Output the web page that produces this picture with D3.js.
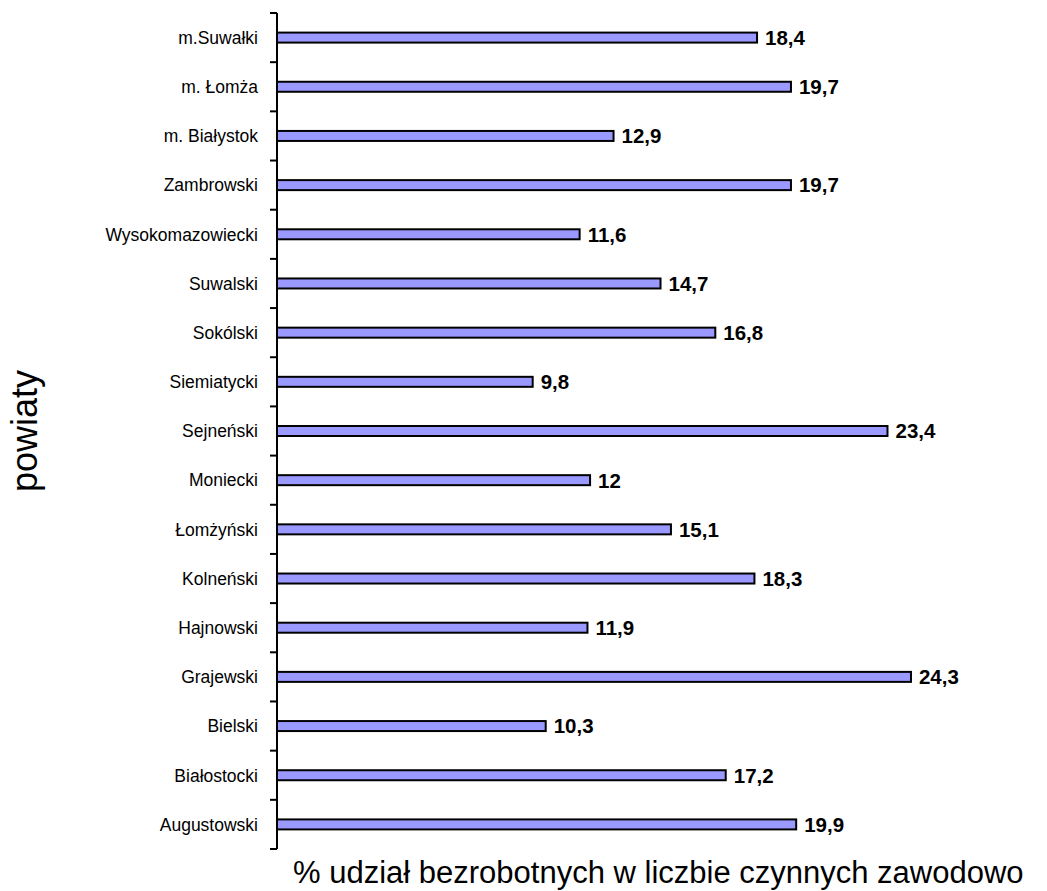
<!DOCTYPE html>
<html>
<head>
<meta charset="utf-8">
<script src="https://cdn.jsdelivr.net/npm/d3@7"></script>
<style>
	body { margin: 0; background: #fff; }
	text { font-family: 'Liberation Sans', Arial, sans-serif; }
</style>
</head>
<body>
<svg class="display"></svg>
<script>
// categories top to bottom
const powiaty = [
	'm.Suwałki', 'm. Łomża', 'm. Białystok', 'Zambrowski', 'Wysokomazowiecki',
	'Suwalski', 'Sokólski', 'Siemiatycki', 'Sejneński', 'Moniecki',
	'Łomżyński', 'Kolneński', 'Hajnowski', 'Grajewski', 'Bielski',
	'Białostocki', 'Augustowski'
];
const udzial = [18.4, 19.7, 12.9, 19.7, 11.6, 14.7, 16.8, 9.8, 23.4, 12, 15.1, 18.3, 11.9, 24.3, 10.3, 17.2, 19.9];

const totalWidth = 1047,
	totalHeight = 891,
	margin = { top: 13, left: 277 },
	height = 836; // 849 - 13

const data = powiaty.map((p, i) => ({ name: p, value: udzial[i] }));

const svg = d3.select('.display').attr('width', totalWidth).attr('height', totalHeight);
const g = svg.append('g').attr('transform', 'translate(' + margin.left + ',' + margin.top + ')');

const yScale = d3.scaleBand().domain(powiaty).range([0, height]);
// ~26.09 px per unit
const xScale = d3.scaleLinear().domain([0, 28]).range([0, 730.5]);

const barH = 10;

g.selectAll('rect.bar')
	.data(data)
	.enter()
	.append('rect')
	.attr('class', 'bar')
	.attr('x', 0)
	.attr('y', (d) => yScale(d.name) + yScale.bandwidth() / 2 - barH / 2)
	.attr('width', (d) => xScale(d.value))
	.attr('height', barH)
	.attr('fill', '#9999ff')
	.attr('stroke', '#000')
	.attr('stroke-width', 2);

// value labels
g.selectAll('text.val')
	.data(data)
	.enter()
	.append('text')
	.attr('class', 'val')
	.attr('x', (d) => xScale(d.value) + 8)
	.attr('y', (d) => yScale(d.name) + yScale.bandwidth() / 2)
	.attr('dy', '0.36em')
	.style('font-size', '20.5px')
	.style('font-weight', 'bold')
	.text((d) => String(d.value).replace('.', ','));

// y axis: line with ticks at band boundaries
g.append('line')
	.attr('x1', 0).attr('x2', 0)
	.attr('y1', 0).attr('y2', height)
	.attr('stroke', '#000').attr('stroke-width', 2);

const bounds = d3.range(powiaty.length + 1).map((i) => i * yScale.step());
g.selectAll('line.tick')
	.data(bounds)
	.enter()
	.append('line')
	.attr('class', 'tick')
	.attr('x1', -7).attr('x2', 0)
	.attr('y1', (d) => d).attr('y2', (d) => d)
	.attr('stroke', '#000').attr('stroke-width', 2);

// category labels
g.selectAll('text.cat')
	.data(powiaty)
	.enter()
	.append('text')
	.attr('class', 'cat')
	.attr('x', -19)
	.attr('y', (d) => yScale(d) + yScale.bandwidth() / 2)
	.attr('dy', '0.36em')
	.attr('text-anchor', 'end')
	.style('font-size', '17.5px')
	.text((d) => d);

// axis titles
svg.append('text')
	.attr('x', 293)
	.attr('y', 883)
	.style('font-size', '31px')
	.text('% udział bezrobotnych w liczbie czynnych zawodowo');

svg.append('text')
	.attr('transform', 'translate(37,431) rotate(-90)')
	.attr('text-anchor', 'middle')
	.style('font-size', '36px')
	.text('powiaty');
</script>
</body>
</html>
